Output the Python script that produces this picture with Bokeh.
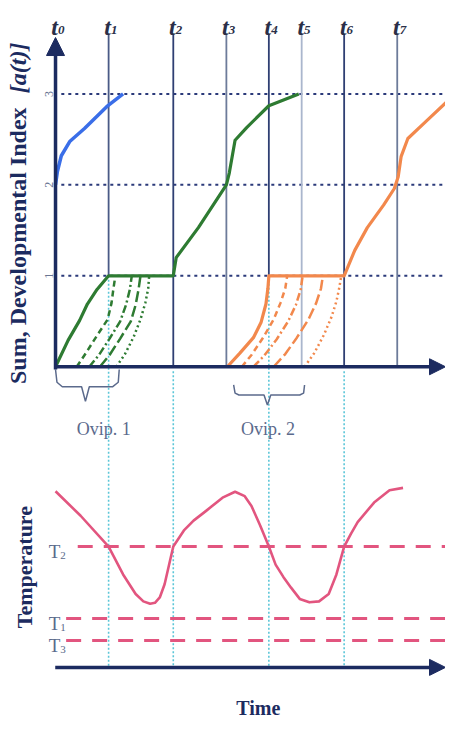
from bokeh.plotting import figure
from bokeh.models import Range1d, Arrow, NormalHead
from bokeh.core.properties import value
from bokeh.embed import file_html
from bokeh.resources import INLINE
import math

# ---------------- data ----------------
t_subs = ["0", "1", "2", "3", "4", "5", "6", "7"]
t_times = [0.0, 5.5, 12.2, 17.7, 22.1, 25.5, 29.9, 35.4]
t_line_start = [1, 0, 0, 1, 0, 0, 0]          # level at which t1..t7 lines stop (bottom)
index_levels = [1, 2, 3]
index_labels = ["1", "2", "3"]

# cumulative developmental index curves (time, level)
blue_t = [0.0, 0.2, 0.6, 1.5, 3.0, 5.3, 7.0]
blue_l = [2.0, 2.15, 2.32, 2.48, 2.62, 2.86, 3.0]

green_t = [0.0, 1.3, 2.5, 3.3, 4.3, 5.5, 12.2, 12.5, 14.8, 17.7, 18.0, 18.6, 19.8, 22.1, 25.2]
green_l = [0.0, 0.29, 0.51, 0.69, 0.85, 1.0, 1.0, 1.2, 1.53, 2.0, 2.13, 2.49, 2.63, 2.87, 3.0]

orange_t = [17.8, 19.1, 20.5, 21.3, 21.8, 22.0, 22.1, 29.9, 31.0, 32.3, 34.0, 35.1, 35.5, 35.8, 36.5, 38.3, 40.6]
orange_l = [0.0, 0.15, 0.32, 0.49, 0.69, 0.86, 1.0, 1.0, 1.28, 1.53, 1.78, 1.96, 2.09, 2.31, 2.51, 2.69, 2.92]

# cohort curves from oviposition period 1 (green) and 2 (orange)
green_cohort_t = [
    [2.2, 3.2, 4.4, 5.4, 5.8, 6.0, 6.2],
    [3.5, 4.5, 5.6, 6.7, 7.3, 7.7, 7.9],
    [4.6, 5.6, 6.7, 7.8, 8.3, 8.6, 8.8],
    [6.3, 7.2, 8.1, 8.8, 9.3, 9.6, 9.7],
]
green_cohort_l = [
    [0.0, 0.16, 0.36, 0.52, 0.70, 0.86, 1.0],
    [0.0, 0.13, 0.31, 0.50, 0.68, 0.85, 1.0],
    [0.0, 0.13, 0.31, 0.50, 0.68, 0.85, 1.0],
    [0.0, 0.14, 0.33, 0.52, 0.70, 0.86, 1.0],
]
orange_cohort_t = [
    [19.3, 20.3, 21.5, 22.6, 23.3, 23.8, 24.0],
    [20.5, 21.6, 22.9, 24.1, 24.9, 25.4, 25.6],
    [22.6, 23.8, 25.0, 26.2, 27.0, 27.5, 27.7],
    [25.8, 26.8, 27.8, 28.6, 29.1, 29.4, 29.6],
]
orange_cohort_l = [
    [0.0, 0.13, 0.32, 0.52, 0.70, 0.86, 1.0],
    [0.0, 0.12, 0.30, 0.50, 0.68, 0.85, 1.0],
    [0.0, 0.14, 0.32, 0.52, 0.70, 0.86, 1.0],
    [0.0, 0.15, 0.35, 0.55, 0.72, 0.87, 1.0],
]

# oviposition braces
ovip1_t = [0.0, 0.15, 0.7, 2.7, 3.1, 3.5, 5.9, 6.5, 6.6]
ovip1_l = [-0.03, -0.17, -0.22, -0.22, -0.38, -0.22, -0.22, -0.17, -0.03]
ovip2_t = [18.45, 18.6, 19.0, 21.6, 21.95, 22.3, 25.3, 25.7, 25.8]
ovip2_l = [-0.2, -0.29, -0.31, -0.31, -0.42, -0.31, -0.31, -0.29, -0.2]
ovip_labels = ["Ovip. 1", "Ovip. 2"]
ovip_label_t = [5.0, 22.0]

# temperature
temp_time = [0.0, 2.6, 5.5, 7.0, 8.3, 9.1, 9.8, 10.3, 10.8, 11.3, 11.8, 12.2, 13.3, 14.3,
             15.6, 17.3, 18.6, 19.6, 20.3, 21.2, 22.1, 22.8, 23.6, 24.4, 25.3, 26.3, 27.3,
             28.3, 29.1, 29.9, 30.6, 31.3, 33.0, 34.6, 36.0]
temp_val = [36.0, 31.0, 24.7, 19.0, 15.0, 13.5, 13.0, 13.2, 14.3, 17.0, 21.3, 24.7, 28.0, 30.0,
            32.0, 34.7, 35.9, 35.0, 33.0, 29.0, 24.7, 21.0, 18.5, 16.3, 14.0, 13.3, 13.5,
            15.0, 19.0, 24.7, 27.3, 29.7, 33.7, 36.2, 36.7]
thresh_names = ["T", "T", "T"]
thresh_subs = ["2", "1", "3"]
thresh_vals = [24.7, 10.0, 5.5]
cyan_times = [5.5, 12.2, 22.1, 29.9]
cyan_start = [1.0, -0.05, 1.0, -0.05]

# ---------------- styles ----------------
NAVY = "#1c2b60"
DOT = "#2b3a7a"
BLUE = "#3a6ee8"
GREEN = "#2e7b32"
ORANGE = "#f2884c"
PINK = "#e2557f"
CYAN = "#5cc6d8"
GRAYTXT = "#5b6a8c"
SERIF = value("Liberation Serif")
t_line_colors = ["#4a5a86", "#2f3f73", "#6d7b9a", "#2f3f73", "#aab6cd", "#2f3f73", "#6d7b9a"]
cohort_dash = ["6 4", "8 3 2 3", "11 4", "2 3"]

X_LO, X_HI = -5.7, 40.4
L_LO, L_HI = -3.889, 4.027
T_LO, T_HI = -10.86, 136.34


def temp_to_level(tv):
    return L_LO + (tv - T_LO) / (T_HI - T_LO) * (L_HI - L_LO)


p = figure(width=445, height=720, x_range=Range1d(X_LO, X_HI), y_range=Range1d(L_LO, L_HI),
           output_backend="svg", toolbar_location=None, min_border=0,
           x_axis_type=None, y_axis_type=None,
           background_fill_color="white", border_fill_color="white")
p.outline_line_color = None
p.grid.visible = False
p.extra_y_ranges = {"temp": Range1d(T_LO, T_HI)}

# horizontal dotted index levels
p.segment(x0=[0.6] * len(index_levels), y0=index_levels, x1=[X_HI] * len(index_levels),
          y1=index_levels, line_color=DOT, line_width=2, line_dash="3 4")

# vertical t lines
top_l = 3.66
p.segment(x0=t_times[1:], y0=t_line_start, x1=t_times[1:], y1=[top_l] * 7,
          line_color=t_line_colors, line_width=1.8)

# cyan dotted link lines
lvl0 = temp_to_level(0.0)
p.segment(x0=cyan_times, y0=cyan_start, x1=cyan_times, y1=[lvl0] * len(cyan_times),
          line_color=CYAN, line_width=1.6, line_dash="2 2")

# cohort curves
for xs, ys, d in zip(green_cohort_t, green_cohort_l, cohort_dash):
    p.line(xs, ys, line_color=GREEN, line_width=2.5, line_dash=d)
for xs, ys, d in zip(orange_cohort_t, orange_cohort_l, cohort_dash):
    p.line(xs, ys, line_color=ORANGE, line_width=2.5, line_dash=d)

# main curves
p.line(blue_t, blue_l, line_color=BLUE, line_width=3.5, line_join="round")
p.line(green_t, green_l, line_color=GREEN, line_width=3.2, line_join="round")
p.line(orange_t, orange_l, line_color=ORANGE, line_width=3.2, line_join="round")

# braces
p.line(ovip1_t, ovip1_l, line_color=GRAYTXT, line_width=1.5)
p.line(ovip2_t, ovip2_l, line_color=GRAYTXT, line_width=1.5)
p.text(x=ovip_label_t, y=[-0.68, -0.68], text=ovip_labels, text_font=SERIF,
       text_font_size="18px", text_color=GRAYTXT, text_align="center", text_baseline="middle")

# axes with arrows
p.add_layout(Arrow(end=NormalHead(size=18, fill_color=NAVY, line_color=NAVY),
                   x_start=0, y_start=-0.03, x_end=0, y_end=3.62,
                   line_color=NAVY, line_width=3.5))
p.add_layout(Arrow(end=NormalHead(size=16, fill_color=NAVY, line_color=NAVY),
                   x_start=-0.05, y_start=0, x_end=X_HI, y_end=0,
                   line_color=NAVY, line_width=3.5))

# t labels
p.text(x=[t + 0.25 for t in t_times], y=[3.74] * 8, text=["t"] * 8, text_font=SERIF,
       text_font_style="bold italic", text_font_size="24px", text_color="#2a2f48",
       text_align="right", text_baseline="alphabetic")
p.text(x=[t + 0.25 for t in t_times], y=[3.70] * 8, text=t_subs, text_font=SERIF,
       text_font_style="bold italic", text_font_size="13px", text_color="#2a2f48",
       text_align="left", text_baseline="alphabetic")

# index tick labels (rotated)
p.text(x=[-0.72] * 3, y=index_levels, text=index_labels, text_font=SERIF,
       text_font_size="12px", text_color="#6a7592", angle=math.pi / 2,
       text_align="center", text_baseline="middle")

# y title
p.text(x=[-3.87], y=[-0.19], text=["Sum, Developmental Index"], text_font=SERIF,
       text_font_style="bold", text_font_size="24px", text_color=NAVY, angle=math.pi / 2,
       text_align="left", text_baseline="middle")
p.text(x=[-3.87], y=[3.565], text=["[a(t)]"], text_font=SERIF,
       text_font_style="bold italic", text_font_size="24px", text_color=NAVY, angle=math.pi / 2,
       text_align="right", text_baseline="middle")

# ---- temperature panel ----
p.segment(x0=[2.3, 1.1, 1.1], y0=thresh_vals, x1=[X_HI] * 3, y1=thresh_vals,
          line_color=PINK, line_width=3, line_dash="15 11", y_range_name="temp")
p.line(temp_time, temp_val, line_color=PINK, line_width=2.6, line_join="round",
       y_range_name="temp")
p.add_layout(Arrow(end=NormalHead(size=16, fill_color=NAVY, line_color=NAVY),
                   x_start=-0.03, y_start=0, x_end=X_HI, y_end=0,
                   line_color=NAVY, line_width=3.5, y_range_name="temp"))

p.text(x=[0.5] * 3, y=[v - 1.0 for v in thresh_vals], text=thresh_names, text_font=SERIF,
       text_font_size="19px", text_color=GRAYTXT, text_align="right",
       text_baseline="alphabetic", y_range_name="temp")
p.text(x=[0.5] * 3, y=[v - 1.8 for v in thresh_vals], text=thresh_subs, text_font=SERIF,
       text_font_size="11px", text_color=GRAYTXT, text_align="left",
       text_baseline="alphabetic", y_range_name="temp")

p.text(x=[-3.2], y=[20.5], text=["Temperature"], text_font=SERIF, text_font_style="bold",
       text_font_size="22px", text_color=NAVY, angle=math.pi / 2, text_align="center",
       text_baseline="middle", y_range_name="temp")
p.text(x=[21.0], y=[-8.3], text=["Time"], text_font=SERIF, text_font_style="bold",
       text_font_size="20px", text_color=NAVY, text_align="center",
       text_baseline="middle", y_range_name="temp")

open("out.html", "w").write(file_html(p, INLINE))
